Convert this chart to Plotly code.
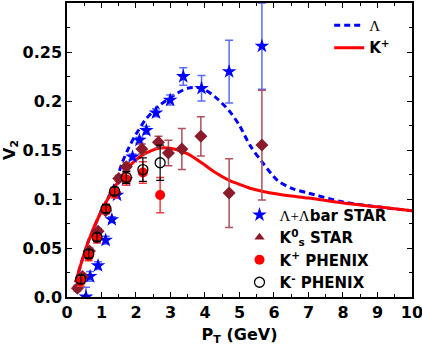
import plotly.graph_objects as go

# model curves
curve_pt = [0.25, 0.6, 1.0, 1.4, 1.6, 1.8, 2.0, 2.3, 2.7, 3.1, 3.5, 3.9, 4.3, 4.7, 5.0, 5.3, 5.65, 6.1, 6.5, 7.0, 8.0, 9.0, 10.0]
lam_curve = [0.015, 0.055, 0.088, 0.116, 0.137, 0.153, 0.166, 0.182, 0.196, 0.206, 0.213, 0.213, 0.204, 0.19, 0.175, 0.155, 0.138, 0.119, 0.111, 0.106, 0.097, 0.092, 0.088]
kp_curve = [0.015, 0.055, 0.088, 0.113, 0.124, 0.133, 0.14, 0.147, 0.152, 0.151, 0.146, 0.137, 0.127, 0.119, 0.115, 0.111, 0.108, 0.105, 0.103, 0.101, 0.096, 0.092, 0.088]

# STAR Lambda + anti-Lambda
lam_pt = [0.55, 0.67, 0.9, 1.12, 1.3, 1.45, 1.71, 1.9, 2.1, 2.3, 2.58, 2.99, 3.37, 3.9, 4.7, 5.65]
lam_v2 = [0.0, 0.021, 0.032, 0.058, 0.079, 0.104, 0.12, 0.143, 0.16, 0.17, 0.188, 0.201, 0.225, 0.213, 0.23, 0.256]
lam_err = [0.01, 0.005, 0.004, 0.004, 0.003, 0.003, 0.003, 0.003, 0.003, 0.004, 0.004, 0.005, 0.009, 0.013, 0.032, 0.044]

# STAR K0s
k0_pt = [0.3, 0.45, 0.65, 0.9, 1.12, 1.38, 1.5, 1.72, 2.17, 2.65, 2.94, 3.33, 3.88, 4.7, 5.65]
k0_v2 = [0.009, 0.021, 0.047, 0.067, 0.088, 0.107, 0.121, 0.133, 0.151, 0.158, 0.147, 0.151, 0.164, 0.106, 0.155]
k0_err = [0.003, 0.003, 0.003, 0.003, 0.003, 0.003, 0.003, 0.004, 0.005, 0.006, 0.013, 0.021, 0.02, 0.035, 0.056]

# PHENIX K+ and K-
kp_pt = [0.4, 0.63, 0.87, 1.13, 1.38, 1.72, 2.2, 2.7]
kp_v2 = [0.016, 0.042, 0.06, 0.09, 0.106, 0.12, 0.127, 0.104]
kp_err = [0.005, 0.005, 0.005, 0.005, 0.005, 0.006, 0.011, 0.018]
km_pt = [0.4, 0.63, 0.87, 1.13, 1.38, 1.72, 2.2, 2.7]
km_v2 = [0.018, 0.044, 0.061, 0.09, 0.108, 0.122, 0.13, 0.137]
km_err = [0.004, 0.004, 0.004, 0.004, 0.004, 0.006, 0.012, 0.018]

x_ticks = list(range(0, 11))
y_ticks = [0.0, 0.05, 0.1, 0.15, 0.2, 0.25]
y_labels = ["0.0", "0.05", "0.1", "0.15", "0.2", "0.25"]

BLUE = "#0000ff"
RED = "#ff0000"
MAROON = "#8b1a2b"
SERIF = "font-family:'Liberation Serif';font-weight:normal"

fig = go.Figure()

fig.add_trace(go.Scatter(x=curve_pt, y=lam_curve, mode="lines", legend="legend",
                         name="<span style=\"%s\">Λ</span>" % SERIF,
                         line=dict(color=BLUE, width=3, dash="6px,4px", shape="spline", smoothing=0.8)))
fig.add_trace(go.Scatter(x=curve_pt, y=kp_curve, mode="lines", legend="legend",
                         name="K<sup>+</sup>", line=dict(color=RED, width=3, shape="spline", smoothing=0.8)))

fig.add_trace(go.Scatter(x=lam_pt, y=lam_v2, mode="markers", legend="legend2",
                         name="<span style=\"%s\">Λ+Λ</span>bar STAR" % SERIF,
                         marker=dict(symbol="star", size=11, color=BLUE),
                         error_y=dict(type="data", array=lam_err, color="#5a6cff", thickness=1.5, width=4)))
fig.add_trace(go.Scatter(x=k0_pt, y=k0_v2, mode="markers", showlegend=False,
                         marker=dict(symbol="diamond", size=10, color=MAROON),
                         error_y=dict(type="data", array=k0_err, color="#b0505f", thickness=1.5, width=4)))
fig.add_trace(go.Scatter(x=[None], y=[None], mode="markers", legend="legend2",
                         name="K<sup>0</sup><sub>s</sub> STAR",
                         marker=dict(symbol="triangle-up", size=9, color=MAROON)))
fig.add_trace(go.Scatter(x=kp_pt, y=kp_v2, mode="markers", legend="legend2",
                         name="K<sup>+</sup> PHENIX",
                         marker=dict(symbol="circle", size=10, color=RED),
                         error_y=dict(type="data", array=kp_err, color="#ff3b3b", thickness=1.5, width=4)))
fig.add_trace(go.Scatter(x=km_pt, y=km_v2, mode="markers", legend="legend2",
                         name="K<sup>-</sup> PHENIX",
                         marker=dict(symbol="circle-open", size=10, color="black", line=dict(width=1.3)),
                         error_y=dict(type="data", array=km_err, color="black", thickness=1.2, width=4)))

axis_common = dict(showline=True, linecolor="black", linewidth=1.5, mirror="allticks",
                   ticks="inside", ticklen=5, tickcolor="black", showgrid=False, zeroline=False,
                   automargin=False, ticklabeloverflow="allow",
                   tickfont=dict(family="DejaVu Sans", size=16, color="black", weight="bold"))

fig.update_xaxes(range=[0, 10.001], tickvals=x_ticks,
                 minor=dict(dtick=0.5, ticks="inside", ticklen=3, tickcolor="black"),
                 title=dict(text="P<sub>T</sub> (GeV)", standoff=10,
                            font=dict(family="DejaVu Sans", size=16, color="black", weight="bold")),
                 **axis_common)
fig.update_yaxes(range=[0, 0.3], tickvals=y_ticks, ticktext=y_labels,
                 minor=dict(dtick=0.025, ticks="inside", ticklen=3, tickcolor="black"),
                 title=dict(text="V<sub>2</sub>", standoff=7,
                            font=dict(family="DejaVu Sans", size=16, color="black", weight="bold")),
                 **axis_common)

legend_font = dict(family="DejaVu Sans", size=15, color="black", weight="bold")
fig.update_layout(
    width=422, height=346,
    margin=dict(l=67, r=10, t=3, b=49),
    plot_bgcolor="white", paper_bgcolor="white",
    legend=dict(x=0.76, y=0.98, xanchor="left", yanchor="top", bgcolor="rgba(0,0,0,0)",
                font=legend_font, tracegroupgap=0, itemwidth=30),
    legend2=dict(x=0.5, y=0.335, xanchor="left", yanchor="top", bgcolor="rgba(0,0,0,0)",
                 font=legend_font, tracegroupgap=0, itemwidth=30),
)

fig.write_html("out.html", config={"displayModeBar": False},
               post_script="document.body.style.margin='0';")
